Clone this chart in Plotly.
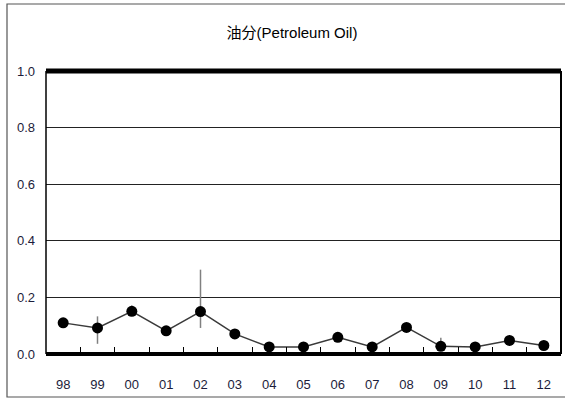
import plotly.graph_objects as go

years = ["98", "99", "00", "01", "02", "03", "04", "05", "06", "07", "08", "09", "10", "11", "12"]
values = [0.11, 0.092, 0.151, 0.082, 0.15, 0.071, 0.025, 0.025, 0.059, 0.025, 0.094, 0.027, 0.025, 0.048, 0.03]
err_plus = [0.0, 0.041, 0.02, 0.0, 0.148, 0.0, 0.0, 0.0, 0.0, 0.0, 0.0, 0.03, 0.0, 0.0, 0.0]
err_minus = [0.0, 0.056, 0.0, 0.0, 0.058, 0.0, 0.0, 0.0, 0.0, 0.0, 0.0, 0.0, 0.0, 0.0, 0.0]
y_ticks = [0.0, 0.2, 0.4, 0.6, 0.8, 1.0]
y_labels = ["0.0", "0.2", "0.4", "0.6", "0.8", "1.0"]

FONT = "Liberation Sans Narrow, Arial Narrow, Liberation Sans, Arial, Noto Sans CJK JP, sans-serif"
W, H = 565, 400
L, R, T, B = 46, 4, 71, 46
pw, ph = W - L - R, H - T - B

def px(x):
    return (x - L) / pw

def py(y):
    return (H - B - y) / ph

fig = go.Figure()
fig.add_trace(go.Scatter(
    x=years, y=values, mode="lines+markers",
    line=dict(color="#3a3a3a", width=1.5),
    marker=dict(color="black", size=11),
    error_y=dict(type="data", symmetric=False, array=err_plus, arrayminus=err_minus,
                 color="#808080", thickness=1.5, width=0),
    showlegend=False, cliponaxis=False,
))

shapes = [
    # outer chart border
    dict(type="rect", xref="paper", yref="paper", x0=px(7), x1=px(575), y0=py(397), y1=py(4),
         line=dict(color="#555555", width=1.2), layer="below"),
    # plot frame
    dict(type="line", xref="paper", yref="paper", x0=0, x1=1, y0=1, y1=1, line=dict(color="black", width=5)),
    dict(type="line", xref="paper", yref="paper", x0=0, x1=1, y0=0, y1=0, line=dict(color="black", width=4)),
    dict(type="line", xref="paper", yref="paper", x0=0, x1=0, y0=0, y1=1, line=dict(color="black", width=1.5)),
    dict(type="line", xref="paper", yref="paper", x0=1, x1=1, y0=0, y1=1, line=dict(color="black", width=2)),
]

fig.update_layout(
    width=W, height=H,
    margin=dict(l=L, r=R, t=T, b=B),
    paper_bgcolor="white", plot_bgcolor="white",
    font=dict(family=FONT, size=13, color="#1c1c3a"),
    title=dict(text="油分(Petroleum Oil)", x=(292) / W, xanchor="center", y=1 - 33 / H, yanchor="middle",
               font=dict(family=FONT, size=15, color="black")),
    shapes=shapes,
    xaxis=dict(type="category", range=[-0.5, 14.5], showgrid=False, zeroline=False,
               ticks="inside", tickson="boundaries", ticklen=7, tickcolor="black", tickwidth=1,
               showline=False, ticklabelstandoff=21, tickfont=dict(size=13)),
    yaxis=dict(range=[0, 1], tickvals=y_ticks, ticktext=y_labels, showgrid=True,
               gridcolor="#222222", gridwidth=1, zeroline=False, showline=False, ticks="",
               ticklabelstandoff=10, tickfont=dict(size=13)),
)

fig.write_html("out.html", config={"displayModeBar": False},
               post_script="document.body.style.margin='0';document.body.style.overflow='hidden';")
